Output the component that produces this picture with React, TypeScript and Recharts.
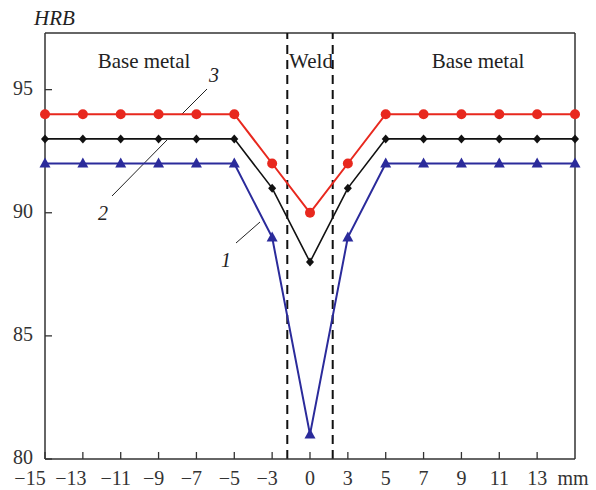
import { LineChart, Line, XAxis, YAxis, ReferenceLine, Customized } from 'recharts'

// positions along the scan, mm (last one shown as "mm")
const positions = ['−15', '−13', '−11', '−9', '−7', '−5', '−3', '0', '3', '5', '7', '9', '11', '13', 'mm']
const curve1 = [92, 92, 92, 92, 92, 92, 89, 81, 89, 92, 92, 92, 92, 92, 92]
const curve2 = [93, 93, 93, 93, 93, 93, 91, 88, 91, 93, 93, 93, 93, 93, 93]
const curve3 = [94, 94, 94, 94, 94, 94, 92, 90, 92, 94, 94, 94, 94, 94, 94]
const yTicks = [80, 85, 90, 95]

const data = positions.map((p, i) => ({
  idx: i,
  label: p,
  c1: curve1[i],
  c2: curve2[i],
  c3: curve3[i],
}))

const RED = '#e8281e'
const BLUE = '#2b2b9b'
const BLACK = '#111111'
const FONT = '"Liberation Serif", "DejaVu Serif", serif'

const Triangle = (props: any) => {
  const { cx, cy } = props
  if (cx == null || cy == null) return null
  return <path d={`M${cx},${cy - 6} L${cx + 5.5},${cy + 4} L${cx - 5.5},${cy + 4} Z`} fill={BLUE} />
}

const Diamond = (props: any) => {
  const { cx, cy } = props
  if (cx == null || cy == null) return null
  return <path d={`M${cx},${cy - 4.5} L${cx + 4},${cy} L${cx},${cy + 4.5} L${cx - 4},${cy} Z`} fill={BLACK} />
}

// the crowded labels at the left end are pushed left a bit
const labelShift = (lbl: string) => {
  if (lbl === '−15') return -15
  if (lbl === '−13') return -12
  if (lbl.startsWith('−')) return -5
  if (lbl === 'mm') return -2
  return 0
}

const XTick = (props: any) => {
  const { x, y, payload } = props
  const lbl = positions[payload.value]
  return (
    <g>
      {lbl !== 'mm' && <line x1={x} x2={x} y1={y} y2={y - 7} stroke="#333" strokeWidth={1.3} />}
      <text x={x + labelShift(lbl)} y={y + 26} textAnchor="middle" fontFamily={FONT} fontSize={20} fill="#333">
        {lbl}
      </text>
    </g>
  )
}

const YTick = (props: any) => {
  const { x, y, payload } = props
  return (
    <g>
      <line x1={x} x2={x + 7} y1={y} y2={y} stroke="#333" strokeWidth={1.3} />
      <text x={x - 12} y={y + 5} textAnchor="end" fontFamily={FONT} fontSize={20} fill="#333">
        {payload.value}
      </text>
    </g>
  )
}

const Annotations = () => (
  <g fontFamily={FONT} fill="#222">
    <text x={34} y={25} fontSize={21} fontStyle="italic">HRB</text>
    <text x={144} y={68} fontSize={21} textAnchor="middle">Base metal</text>
    <text x={311} y={68} fontSize={21} textAnchor="middle">Weld</text>
    <text x={478} y={68} fontSize={21} textAnchor="middle">Base metal</text>
    <line x1={182} y1={114} x2={207} y2={89} stroke="#222" strokeWidth={1} />
    <text x={214} y={82} fontSize={20} fontStyle="italic" textAnchor="middle">3</text>
    <line x1={112} y1={196} x2={167} y2={140} stroke="#222" strokeWidth={1} />
    <text x={103} y={220} fontSize={20} fontStyle="italic" textAnchor="middle">2</text>
    <line x1={236} y1={243} x2={260} y2={222} stroke="#222" strokeWidth={1} />
    <text x={226} y={267} fontSize={20} fontStyle="italic" textAnchor="middle">1</text>
  </g>
)

export default function App() {
  return (
    <div style={{ position: 'absolute', left: 0, top: 0, background: '#fff' }}>
      <LineChart width={596} height={490} data={data} margin={{ top: 33, right: 21, bottom: 0, left: 0 }}>
        <XAxis
          dataKey="idx"
          type="number"
          domain={[0, 14]}
          ticks={data.map(d => d.idx)}
          interval={0}
          height={31}
          tickSize={0}
          tickMargin={0}
          tickLine={false}
          axisLine={{ stroke: '#333', strokeWidth: 1.5 }}
          tick={<XTick />}
        />
        <YAxis
          type="number"
          domain={[80, 97.3]}
          ticks={yTicks}
          allowDataOverflow
          width={45}
          tickSize={0}
          tickMargin={0}
          tickLine={false}
          axisLine={{ stroke: '#333', strokeWidth: 1.5 }}
          tick={<YTick />}
        />
        <ReferenceLine y={97.3} stroke="#333" strokeWidth={1.5} />
        <ReferenceLine x={14} stroke="#333" strokeWidth={1.5} />
        <ReferenceLine x={6.4} stroke="#111" strokeWidth={2} strokeDasharray="9 6" />
        <ReferenceLine x={7.6} stroke="#111" strokeWidth={2} strokeDasharray="9 6" />
        <Line
          dataKey="c3"
          stroke={RED}
          strokeWidth={2}
          dot={{ r: 5, fill: RED, stroke: RED, strokeWidth: 0 }}
          isAnimationActive={false}
        />
        <Line dataKey="c2" stroke={BLACK} strokeWidth={1.6} dot={<Diamond />} isAnimationActive={false} />
        <Line dataKey="c1" stroke={BLUE} strokeWidth={2} dot={<Triangle />} isAnimationActive={false} />
        <Customized component={<Annotations />} />
      </LineChart>
    </div>
  )
}
